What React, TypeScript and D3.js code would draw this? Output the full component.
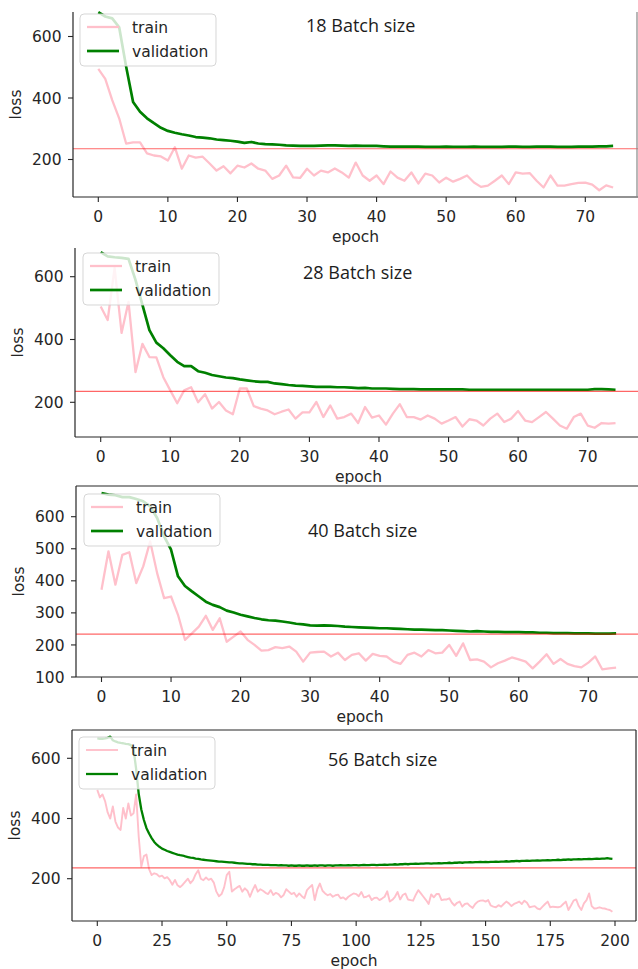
import React from 'react';
import * as d3 from 'd3';

// ---------- data ----------
const titles = ['18 Batch size', '28 Batch size', '40 Batch size', '56 Batch size'];
const legendLabels = ['train', 'validation'];
const refLoss = [235, 235, 234, 236];

const train18 = [495,462,393,334,252,256,256,220,213,210,197,240,170,213,206,209,187,164,178,155,180,174,187,170,164,137,148,180,142,140,170,148,164,158,171,158,141,190,148,131,148,120,161,141,131,158,122,154,148,125,141,128,137,148,125,111,115,131,148,120,158,154,156,131,109,148,115,115,120,124,125,118,100,116,109];
const val18 = [679,665,659,630,502,387,355,334,318,303,293,287,282,278,273,271,269,265,263,261,258,254,257,252,250,249,248,246,245,244,244,244,245,246,246,245,244,245,244,244,244,243,242,242,242,242,242,241,241,241,242,241,241,241,242,241,241,241,241,242,242,241,241,242,242,242,241,241,241,242,242,242,243,243,244];

const train28 = [505,462,628,421,520,296,386,344,343,280,238,197,238,248,200,226,180,201,174,162,244,244,188,180,174,162,170,177,148,168,168,201,153,190,148,153,164,134,185,151,158,129,164,194,153,153,145,158,148,132,142,153,123,146,142,126,148,164,137,148,172,142,137,153,169,148,126,116,153,164,126,119,134,132,134];
const val28 = [678,665,662,660,657,590,510,430,390,372,350,329,315,315,299,294,287,283,279,277,273,270,267,265,265,260,258,255,253,252,251,249,249,249,248,248,247,245,246,244,244,244,243,242,242,242,241,241,241,241,241,241,241,240,240,240,240,240,240,240,240,240,240,240,240,240,240,240,240,240,240,242,242,241,240];

const train40 = [372,492,388,481,489,393,445,523,424,346,351,294,216,236,257,291,247,283,210,226,242,216,200,182,184,193,190,195,179,148,176,178,179,164,176,153,169,174,151,172,166,164,148,141,169,176,164,184,174,176,200,166,205,153,155,148,130,143,151,161,155,148,127,148,171,141,156,141,134,130,145,164,124,127,129];
const val40 = [674,669,667,661,661,655,648,632,596,539,497,414,384,367,351,335,325,318,307,301,294,289,284,280,277,276,273,270,266,264,261,260,261,260,259,257,256,255,254,253,252,252,251,250,249,248,248,247,246,246,245,244,243,242,243,242,241,241,240,240,240,239,239,238,238,237,237,237,236,236,236,235,235,235,236];

const train56 = [
  495,470,480,458,420,400,440,390,370,362,
  435,400,450,410,417,480,340,240,275,280,
  232,212,218,215,207,210,201,205,195,180,
  196,178,172,180,190,200,185,195,215,228,
  200,195,204,196,200,187,157,142,149,171,
  212,223,157,165,171,176,157,168,160,140,
  162,179,157,165,160,153,149,162,146,153,
  149,138,146,165,157,149,153,140,151,142,
  135,162,171,179,129,165,184,160,151,145,
  149,140,145,147,135,138,131,140,146,151,
  149,142,156,138,140,145,129,136,137,129,
  134,140,158,124,130,140,156,131,146,151,
  131,129,127,146,162,151,140,129,116,148,
  138,149,149,129,131,131,135,120,111,120,
  124,107,116,118,109,103,116,124,127,128,
  124,129,111,107,105,112,107,116,124,118,
  109,116,120,124,116,127,120,105,107,109,
  101,98,107,116,124,105,107,106,105,107,
  116,124,96,111,127,131,109,96,118,129,
  151,109,101,102,105,102,101,98,96,90,
];
const val56 = [
  666,665,665,666,668,672,660,656,653,651,
  650,648,647,644,630,565,482,430,395,368,
  350,335,322,313,306,300,296,292,289,286,
  283,280,278,277,274,272,270,269,267,266,
  264,263,262,261,260,259,258,257,257,256,
  255,254,254,253,252,251,251,250,249,249,
  248,248,247,247,246,246,246,245,245,245,
  244,245,244,244,243,244,243,243,244,243,
  243,244,243,243,244,243,244,244,243,244,
  244,243,244,244,245,244,244,245,244,245,
  245,244,245,246,245,245,246,246,245,246,
  246,247,246,247,247,248,247,248,248,249,
  248,249,249,250,249,250,250,251,251,250,
  251,251,252,251,252,252,253,252,253,253,
  254,253,254,254,255,254,255,255,256,255,
  256,255,256,256,257,256,257,257,258,257,
  258,258,259,258,259,259,260,259,260,260,
  261,260,261,261,262,261,262,262,263,262,
  263,263,264,263,264,264,265,264,265,265,
  266,265,266,267,266,267,267,268,267,266,
];

const xTicks75 = [0, 10, 20, 30, 40, 50, 60, 70];
const xTicks200 = [0, 25, 50, 75, 100, 125, 150, 175, 200];
const yTicksA = [200, 400, 600];
const yTicksB = [100, 200, 300, 400, 500, 600];

// ---------- layout ----------
const panels = [
  { train: train18, val: val18, title: titles[0], ref: refLoss[0], xTicks: xTicks75, yTicks: yTicksA,
    box: { l: 73, r: 638, t: 12, b: 197 }, top: false, right: true, rightX: 637,
    xCal: [[0, 98.3], [70, 585.3]], yCal: [[200, 159.5], [600, 36.5]],
    legend: { x: 80, y: 14 }, titlePos: { x: 306, y: 32 }, bgTop: 0, lw: [2.3, 2.7] },
  { train: train28, val: val28, title: titles[1], ref: refLoss[1], xTicks: xTicks75, yTicks: yTicksA,
    box: { l: 75, r: 642, t: 248, b: 437 }, top: false, right: false, rightX: 642,
    xCal: [[0, 100.7], [70, 587.7]], yCal: [[200, 402.3], [600, 276.7]],
    legend: { x: 83, y: 253 }, titlePos: { x: 303, y: 279 }, bgTop: 246, lw: [2.3, 2.7] },
  { train: train40, val: val40, title: titles[2], ref: refLoss[2], xTicks: xTicks75, yTicks: yTicksB,
    box: { l: 76, r: 644, t: 486, b: 677 }, top: true, right: false, rightX: 644,
    xCal: [[0, 101.5], [70, 588.3]], yCal: [[100, 677], [600, 516.7]],
    legend: { x: 84, y: 494 }, titlePos: { x: 308, y: 537 }, bgTop: 484, lw: [2.3, 2.7] },
  { train: train56, val: val56, title: titles[3], ref: refLoss[3], xTicks: xTicks200, yTicks: yTicksA,
    box: { l: 72, r: 636, t: 730, b: 921 }, top: true, right: true, rightX: 636,
    xCal: [[0, 97.3], [200, 615]], yCal: [[200, 878.7], [600, 758.3]],
    legend: { x: 79, y: 737 }, titlePos: { x: 328, y: 766 }, bgTop: 726, lw: [1.9, 2.3] },
];

const SPINE = '#262626';
const TXT = '#262626';
const FONT = 'DejaVu Sans';
const FS = 15.5;

function Panel({ p }: { p: any }) {
  const x = d3.scaleLinear().domain([p.xCal[0][0], p.xCal[1][0]]).range([p.xCal[0][1], p.xCal[1][1]]);
  const y = d3.scaleLinear().domain([p.yCal[0][0], p.yCal[1][0]]).range([p.yCal[0][1], p.yCal[1][1]]);
  const line = d3.line<number>().x((_, i) => x(i)).y((d) => y(d));
  const { l, r, t, b } = p.box;
  const lg = p.legend;
  return (
    <g>
      <rect x={0} y={p.bgTop} width={644} height={b + 50 - p.bgTop} fill="#fff" />
      <path d={line(p.train) || ''} fill="none" stroke="#ffc0cb" strokeWidth={p.lw[0]} strokeLinejoin="round" />
      <path d={line(p.val) || ''} fill="none" stroke="#008000" strokeWidth={p.lw[1]} strokeLinejoin="round" />
      <line x1={l} x2={r} y1={y(p.ref)} y2={y(p.ref)} stroke="#ff0000" strokeOpacity={0.6} strokeWidth={1.2} />
      {/* spines */}
      <line x1={l} x2={l} y1={t} y2={b} stroke={SPINE} strokeWidth={1.2} />
      <line x1={l} x2={r} y1={b} y2={b} stroke={SPINE} strokeWidth={1.2} />
      {p.top && <line x1={l} x2={r} y1={t} y2={t} stroke={SPINE} strokeWidth={1.2} />}
      {p.right && <line x1={p.rightX} x2={p.rightX} y1={t} y2={b} stroke={p.top ? SPINE : '#888'} strokeWidth={1.2} />}
      {/* x ticks */}
      {p.xTicks.map((v: number) => (
        <g key={'x' + v}>
          <line x1={x(v)} x2={x(v)} y1={b} y2={b + 5} stroke={SPINE} strokeWidth={1.1} />
          <text x={x(v)} y={b + 24.7} textAnchor="middle" fontFamily={FONT} fontSize={FS} fill={TXT}>{v}</text>
        </g>
      ))}
      {p.yTicks.map((v: number) => (
        <g key={'y' + v}>
          <line x1={l - 5} x2={l} y1={y(v)} y2={y(v)} stroke={SPINE} strokeWidth={1.1} />
          <text x={l - 11.5} y={y(v) + 5.6} textAnchor="end" fontFamily={FONT} fontSize={FS} fill={TXT}>{v}</text>
        </g>
      ))}
      <text x={(l + r) / 2} y={b + 44.5} textAnchor="middle" fontFamily={FONT} fontSize={FS} fill={TXT}>epoch</text>
      <text transform={`translate(${l - 52},${(t + b) / 2}) rotate(-90)`} textAnchor="middle" fontFamily={FONT} fontSize={FS} fill={TXT}>loss</text>
      {/* legend */}
      <rect x={lg.x} y={lg.y} width={136} height={52} rx={4} fill="#fff" fillOpacity={0.8} stroke="#cccccc" strokeOpacity={0.8} strokeWidth={1} />
      <line x1={lg.x + 7} x2={lg.x + 39} y1={lg.y + 13} y2={lg.y + 13} stroke="#ffc0cb" strokeWidth={p.lw[0]} />
      <line x1={lg.x + 7} x2={lg.x + 39} y1={lg.y + 37} y2={lg.y + 37} stroke="#008000" strokeWidth={p.lw[1]} />
      <text x={lg.x + 52} y={lg.y + 18.5} fontFamily={FONT} fontSize={FS} fill={TXT}>{legendLabels[0]}</text>
      <text x={lg.x + 52} y={lg.y + 42.5} fontFamily={FONT} fontSize={FS} fill={TXT}>{legendLabels[1]}</text>
      <text x={p.titlePos.x} y={p.titlePos.y} fontFamily="Open Sans" fontSize={18} fill="#1c1c1c">{p.title}</text>
    </g>
  );
}

export default function App() {
  return (
    <div style={{ position: 'absolute', left: 0, top: 0 }}>
      <svg width={638} height={969} viewBox="0 0 638 969" style={{ display: 'block', background: '#fff' }}>
        <rect x={0} y={0} width={638} height={969} fill="#fff" />
        {panels.map((p, i) => <Panel key={i} p={p} />)}
      </svg>
    </div>
  );
}
